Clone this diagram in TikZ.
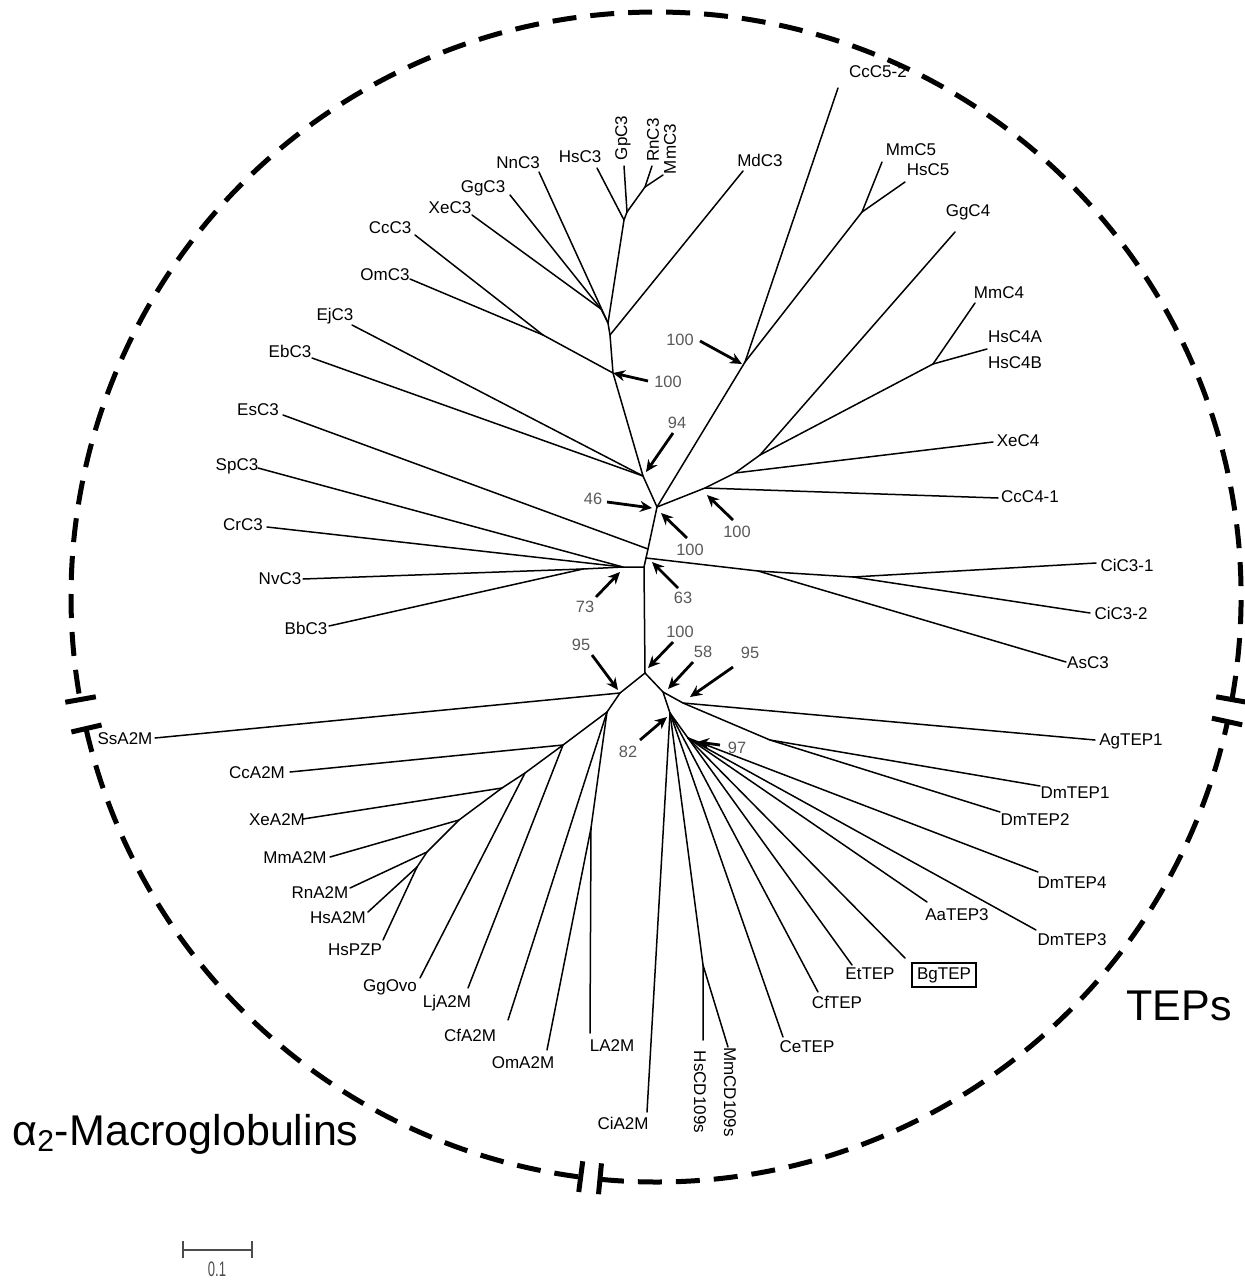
\documentclass[tikz,border=0pt]{standalone}
\usepackage{fontspec}
\setmainfont{Liberation Sans}
\usetikzlibrary{arrows.meta}
\begin{document}
\begin{tikzpicture}[x=0.5pt,y=-0.5pt,
  br/.style={line width=0.75pt, line cap=round, line join=round},
  lb/.style={font=\fontsize{8.5}{9}\selectfont, inner sep=0pt},
  bs/.style={font=\fontsize{8.2}{9}\selectfont, text=black!65, inner sep=0pt},
  ar/.style={line width=1.4pt, -{Stealth[length=6pt,width=5.5pt]}},
  circ/.style={line width=2.5pt, dash pattern=on 12pt off 7pt},
  bar/.style={line width=2.5pt},
  big/.style={font=\fontsize{21.5}{24}\selectfont, inner sep=0pt}]
\useasboundingbox (0,0) rectangle (1244,1284);

% ---------- internal nodes ----------
\coordinate (root) at (645,673);
\coordinate (base) at (644,567);
\coordinate (n73) at (623,567);
\coordinate (nNB) at (583,569);
\coordinate (n63) at (646,558);
\coordinate (nEs) at (648,549);
\coordinate (n46) at (657,507);
\coordinate (n94) at (643,476);
\coordinate (nC3b) at (613,373);
\coordinate (nMd) at (610,335);
\coordinate (nA2) at (608,323);
\coordinate (nA3) at (601,309);
\coordinate (nFish) at (543,335);
\coordinate (nHG) at (624,220);
\coordinate (nG) at (627,212);
\coordinate (nRM) at (645,187);
\coordinate (nC5) at (745,362);
\coordinate (nMH5) at (862,212);
\coordinate (nC4a) at (705,488);
\coordinate (nC4b) at (735,473);
\coordinate (nC4c) at (760,455);
\coordinate (nC4d) at (933,364);
\coordinate (nAs) at (758,571);
\coordinate (nCi) at (853,577);
\coordinate (nL) at (620,693);
\coordinate (nL2) at (607,712);
\coordinate (nC) at (563,745);
\coordinate (nGg) at (525,773);
\coordinate (nXe) at (502,788);
\coordinate (nMm) at (459,820);
\coordinate (nRn) at (427,852);
\coordinate (nHs) at (417,867);
\coordinate (nOL) at (591,828);
\coordinate (nR) at (663,692);
\coordinate (nAg) at (683,703);
\coordinate (n82) at (670,713);
\coordinate (nCD) at (703,965);
\coordinate (n97) at (688,738);
\coordinate (nDm) at (770,740);

% ---------- leaf tips ----------
\coordinate (tSpC3) at (258,468);
\coordinate (tCrC3) at (267,527);
\coordinate (tNvC3) at (303,579);
\coordinate (tBbC3) at (329,626);
\coordinate (tEsC3) at (283,415);
\coordinate (tEbC3) at (312,358);
\coordinate (tEjC3) at (352,325);
\coordinate (tOmC3) at (410,279);
\coordinate (tCcC3) at (415,235);
\coordinate (tXeC3) at (472,215);
\coordinate (tGgC3) at (510,195);
\coordinate (tNnC3) at (539,172);
\coordinate (tHsC3) at (597,168);
\coordinate (tGpC3) at (624,166);
\coordinate (tRnC3) at (652,166);
\coordinate (tMmC3) at (663,175);
\coordinate (tMdC3) at (743,171);
\coordinate (tCcC5) at (838,88);
\coordinate (tMmC5) at (882,162);
\coordinate (tHsC5) at (905,182);
\coordinate (tGgC4) at (955,232);
\coordinate (tMmC4) at (975,303);
\coordinate (tHsC4) at (987,349);
\coordinate (tXeC4) at (993,442);
\coordinate (tCcC4) at (998,498);
\coordinate (tCiC31) at (1096,563);
\coordinate (tCiC32) at (1090,613);
\coordinate (tAsC3) at (1066,662);
\coordinate (tAgTEP1) at (1095,740);
\coordinate (tDmTEP1) at (1040,786);
\coordinate (tDmTEP2) at (1000,812);
\coordinate (tDmTEP4) at (1038,872);
\coordinate (tDmTEP3) at (1036,930);
\coordinate (tAaTEP3) at (927,902);
\coordinate (tBgTEP) at (905,958);
\coordinate (tEtTEP) at (852,965);
\coordinate (tCfTEP) at (818,992);
\coordinate (tCeTEP) at (783,1037);
\coordinate (tMmCD) at (728,1047);
\coordinate (tHsCD) at (703,1040);
\coordinate (tCiA2M) at (647,1112);
\coordinate (tLA2M) at (590,1033);
\coordinate (tOmA2M) at (547,1050);
\coordinate (tCfA2M) at (508,1020);
\coordinate (tLjA2M) at (468,988);
\coordinate (tGgOvo) at (420,978);
\coordinate (tHsPZP) at (383,940);
\coordinate (tHsA2M) at (368,912);
\coordinate (tRnA2M) at (350,888);
\coordinate (tMmA2M) at (330,857);
\coordinate (tXeA2M) at (303,819);
\coordinate (tCcA2M) at (290,772);
\coordinate (tSsA2M) at (155,738);

% ---------- branches ----------
\draw[br] (root) -- (base) -- (n73) -- (nNB);
\draw[br] (base) -- (n63) -- (nEs) -- (n46) -- (n94) -- (nC3b) -- (nMd) -- (nA2) -- (nHG) -- (nG) -- (nRM);
\draw[br] (nA2) -- (nA3);
\draw[br] (nC3b) -- (nFish);
\draw[br] (n46) -- (nC5) -- (nMH5);
\draw[br] (n46) -- (nC4a) -- (nC4b) -- (nC4c) -- (nC4d);
\draw[br] (n63) -- (nAs) -- (nCi);
\draw[br] (n73) -- (tSpC3); \draw[br] (n73) -- (tCrC3);
\draw[br] (nNB) -- (tNvC3); \draw[br] (nNB) -- (tBbC3);
\draw[br] (nEs) -- (tEsC3);
\draw[br] (n94) -- (tEbC3); \draw[br] (n94) -- (tEjC3);
\draw[br] (nFish) -- (tOmC3); \draw[br] (nFish) -- (tCcC3);
\draw[br] (nA3) -- (tXeC3); \draw[br] (nA3) -- (tGgC3);
\draw[br] (nA2) -- (tNnC3);
\draw[br] (nHG) -- (tHsC3); \draw[br] (nG) -- (tGpC3);
\draw[br] (nRM) -- (tRnC3); \draw[br] (nRM) -- (tMmC3);
\draw[br] (nMd) -- (tMdC3);
\draw[br] (nC5) -- (tCcC5);
\draw[br] (nMH5) -- (tMmC5); \draw[br] (nMH5) -- (tHsC5);
\draw[br] (nC4c) -- (tGgC4);
\draw[br] (nC4d) -- (tMmC4); \draw[br] (nC4d) -- (tHsC4);
\draw[br] (nC4b) -- (tXeC4);
\draw[br] (nC4a) -- (tCcC4);
\draw[br] (nCi) -- (tCiC31); \draw[br] (nCi) -- (tCiC32);
\draw[br] (nAs) -- (tAsC3);
% alpha2-macroglobulins
\draw[br] (root) -- (nL) -- (nL2) -- (nC) -- (nGg) -- (nXe) -- (nMm) -- (nRn) -- (nHs);
\draw[br] (nL) -- (tSsA2M);
\draw[br] (nC) -- (tCcA2M); \draw[br] (nC) -- (tLjA2M);
\draw[br] (nGg) -- (tGgOvo);
\draw[br] (nXe) -- (tXeA2M);
\draw[br] (nMm) -- (tMmA2M);
\draw[br] (nRn) -- (tRnA2M);
\draw[br] (nHs) -- (tHsA2M); \draw[br] (nHs) -- (tHsPZP);
\draw[br] (nL2) -- (tCfA2M);
\draw[br] (nL2) -- (nOL) -- (tOmA2M); \draw[br] (nOL) -- (tLA2M);
% TEPs
\draw[br] (root) -- (nR) -- (nAg) -- (tAgTEP1);
\draw[br] (nR) -- (n82) -- (tCiA2M);
\draw[br] (n82) -- (nCD) -- (tHsCD); \draw[br] (nCD) -- (tMmCD);
\draw[br] (n82) -- (tCeTEP); \draw[br] (n82) -- (tCfTEP);
\draw[br] (n82) -- (n97);
\draw[br] (n97) -- (tEtTEP); \draw[br] (n97) -- (tBgTEP); \draw[br] (n97) -- (tAaTEP3);
\draw[br] (n97) -- (tDmTEP3); \draw[br] (n97) -- (tDmTEP4);
\draw[br] (nAg) -- (nDm) -- (tDmTEP1); \draw[br] (nDm) -- (tDmTEP2);

% ---------- leaf labels ----------
\node[lb] (lSpC3) at (237,466) {SpC3};
\node[lb] (lCrC3) at (243,525) {CrC3};
\node[lb] (lNvC3) at (280,579) {NvC3};
\node[lb] (lBbC3) at (306,628) {BbC3};
\node[lb] (lEsC3) at (258,410) {EsC3};
\node[lb] (lEbC3) at (290,351) {EbC3};
\node[lb] (lEjC3) at (335,316) {EjC3};
\node[lb] (lOmC3) at (385,275) {OmC3};
\node[lb] (lCcC3) at (390,228) {CcC3};
\node[lb] (lXeC3) at (450,208) {XeC3};
\node[lb] (lGgC3) at (483,188) {GgC3};
\node[lb] (lNnC3) at (518,163) {NnC3};
\node[lb] (lHsC3) at (580,157) {HsC3};
\node[lb,rotate=90] (lGpC3) at (623,138) {GpC3};
\node[lb,rotate=90] (lRnC3) at (653,140) {RnC3};
\node[lb,rotate=90] (lMmC3) at (670,149) {MmC3};
\node[lb] (lMdC3) at (760,160) {MdC3};
\node[lb] (lCcC5) at (878,72) {CcC5-2};
\node[lb] (lMmC5) at (911,150) {MmC5};
\node[lb] (lHsC5) at (928,170) {HsC5};
\node[lb] (lGgC4) at (968,212) {GgC4};
\node[lb] (lMmC4) at (999,293) {MmC4};
\node[lb] (lHsC4A) at (1015,337) {HsC4A};
\node[lb] (lHsC4B) at (1015,363) {HsC4B};
\node[lb] (lXeC4) at (1018,441) {XeC4};
\node[lb] (lCcC4) at (1030,497) {CcC4-1};
\node[lb] (lCiC31) at (1127,565) {CiC3-1};
\node[lb] (lCiC32) at (1121,613) {CiC3-2};
\node[lb] (lAsC3) at (1088,663) {AsC3};
\node[lb] (lAgTEP1) at (1131,741) {AgTEP1};
\node[lb] (lDmTEP1) at (1075,793) {DmTEP1};
\node[lb] (lDmTEP2) at (1035,820) {DmTEP2};
\node[lb] (lDmTEP4) at (1072,883) {DmTEP4};
\node[lb] (lAaTEP3) at (957,915) {AaTEP3};
\node[lb] (lDmTEP3) at (1072,940) {DmTEP3};
\node[lb,draw,line width=1pt,inner xsep=2.5pt,inner ysep=2pt] (lBgTEP) at (944,975) {BgTEP};
\node[lb] (lEtTEP) at (870,974) {EtTEP};
\node[lb] (lCfTEP) at (837,1002) {CfTEP};
\node[lb] (lCeTEP) at (807,1047) {CeTEP};
\node[lb,rotate=-90] (lMmCD) at (730,1092) {MmCD109s};
\node[lb,rotate=-90] (lHsCD) at (700,1092) {HsCD109s};
\node[lb] (lCiA2M) at (623,1123) {CiA2M};
\node[lb] (lLA2M) at (612,1046) {LA2M};
\node[lb] (lOmA2M) at (523,1063) {OmA2M};
\node[lb] (lCfA2M) at (470,1035) {CfA2M};
\node[lb] (lLjA2M) at (447,1003) {LjA2M};
\node[lb] (lGgOvo) at (390,987) {GgOvo};
\node[lb] (lHsPZP) at (355,950) {HsPZP};
\node[lb] (lHsA2M) at (338,918) {HsA2M};
\node[lb] (lRnA2M) at (320,893) {RnA2M};
\node[lb] (lMmA2M) at (295,858) {MmA2M};
\node[lb] (lXeA2M) at (277,820) {XeA2M};
\node[lb] (lCcA2M) at (257,773) {CcA2M};
\node[lb] (lSsA2M) at (125,739) {SsA2M};

% ---------- bootstrap values and arrows ----------
\node[bs] (b1) at (668,382) {100};
\coordinate (b1t) at (648,381); \draw[ar] (b1t) -- (nC3b);
\node[bs] (b2) at (680,340) {100};
\coordinate (b2t) at (700,341); \draw[ar] (b2t) -- (742,364);
\node[bs] (b3) at (677,423) {94};
\coordinate (b3t) at (673,433); \draw[ar] (b3t) -- (646,472);
\node[bs] (b4) at (593,499) {46};
\coordinate (b4t) at (607,502); \draw[ar] (b4t) -- (652,508);
\node[bs] (b5) at (690,550) {100};
\coordinate (b5t) at (687,538); \draw[ar] (b5t) -- (661,513);
\node[bs] (b6) at (737,532) {100};
\coordinate (b6t) at (733,520); \draw[ar] (b6t) -- (707,495);
\node[bs] (b7) at (683,598) {63};
\coordinate (b7t) at (678,588); \draw[ar] (b7t) -- (652,562);
\node[bs] (b8) at (585,607) {73};
\coordinate (b8t) at (596,597); \draw[ar] (b8t) -- (620,572);
\node[bs] (b9) at (680,632) {100};
\coordinate (b9t) at (673,642); \draw[ar] (b9t) -- (648,668);
\node[bs] (b10) at (581,645) {95};
\coordinate (b10t) at (592,655); \draw[ar] (b10t) -- (618,690);
\node[bs] (b11) at (703,652) {58};
\coordinate (b11t) at (693,662); \draw[ar] (b11t) -- (668,689);
\node[bs] (b12) at (750,653) {95};
\coordinate (b12t) at (733,667); \draw[ar] (b12t) -- (690,697);
\node[bs] (b13) at (628,752) {82};
\coordinate (b13t) at (640,740); \draw[ar] (b13t) -- (667,717);
\node[bs] (b14) at (737,748) {97};
\coordinate (b14t) at (720,745); \draw[ar] (b14t) -- (697,742);

% ---------- dashed circle ----------
\coordinate (cc) at (656,597);
\draw[circ] ([shift={(10.1:585)}]cc) arc[start angle=10.1, end angle=-190.1, radius=585];
\draw[circ] ([shift={(167:585)}]cc) arc[start angle=167, end angle=97.4, radius=585];
\draw[circ] ([shift={(95.5:585)}]cc) arc[start angle=95.5, end angle=12.3, radius=585];
\foreach \a in {10.1,-190.1,167,97.4,95.5,12.3}
  \draw[bar] ([shift={(\a:569)}]cc) -- ([shift={(\a:600)}]cc);

% ---------- group labels ----------
\node[big,anchor=base west] (gA2M) at (12,1145) {α\textsubscript{2}-Macroglobulins};
\node[big,anchor=base east] (gTEP) at (1232,1020) {TEPs};

% ---------- scale bar ----------
\coordinate (sb1) at (183,1250); \coordinate (sb2) at (252,1250);
\draw[black!70,line width=0.8pt] (sb1) -- (sb2);
\draw[black!70,line width=0.8pt] ([yshift=4.5pt]sb1) -- ([yshift=-4pt]sb1);
\draw[black!70,line width=0.8pt] ([yshift=4.5pt]sb2) -- ([yshift=-4pt]sb2);
\node[text=black!70,font=\fontsize{10.5}{11}\selectfont,xscale=0.62,inner sep=0pt] (sbl) at (217,1269) {0.1};
\end{tikzpicture}
\end{document}
